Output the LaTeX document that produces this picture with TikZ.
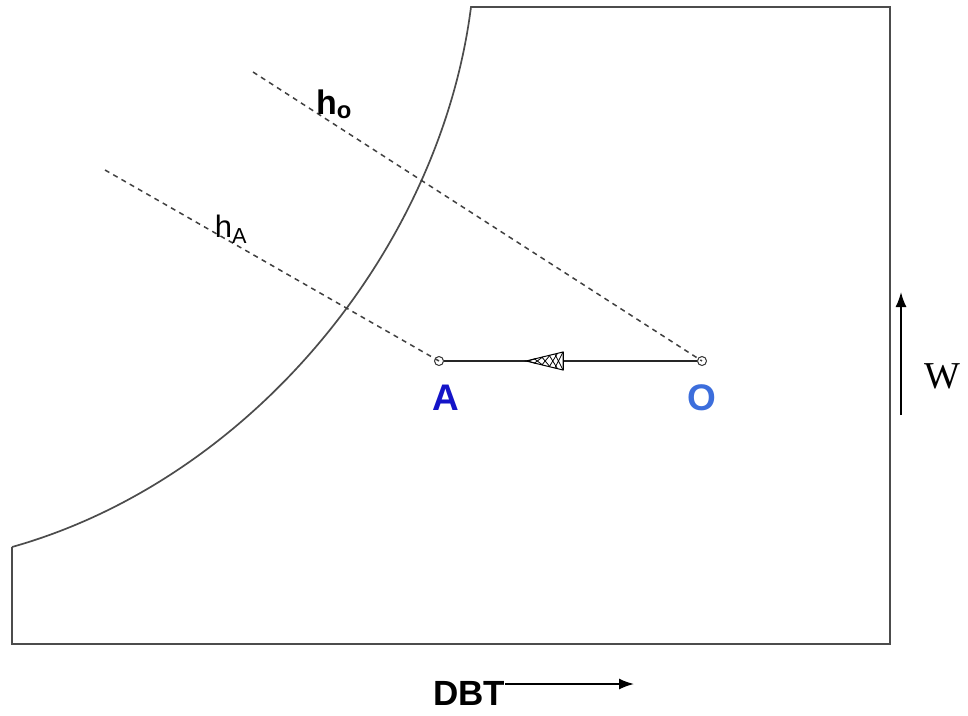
\documentclass[tikz,border=0pt]{standalone}
\usepackage{fontspec}
\setmainfont{Liberation Sans}
\newfontfamily\serifw{Liberation Serif}
\usetikzlibrary{arrows.meta,calc}
\definecolor{ablue}{RGB}{20,20,200}
\definecolor{oblue}{RGB}{60,110,220}
\begin{document}
\begin{tikzpicture}[x=1pt,y=-1pt,
  outline/.style={draw=black!70,line width=1.7pt},
  hline/.style={draw=black!75,dash pattern=on 5pt off 4.5pt,line width=1.5pt},
  pt/.style={circle,draw=black!80,line width=1pt,inner sep=0pt,minimum size=9pt},
  lbl/.style={inner sep=0pt,font=\fontsize{37}{40}\selectfont\bfseries},
  axarr/.style={draw=black,line width=1.6pt,-{Latex[length=15pt,width=11pt]}}]
\useasboundingbox (0,0) rectangle (968,715);
% outline
\coordinate (c0) at (12,547);
\coordinate (c1) at (12,644);
\coordinate (c2) at (890,644);
\coordinate (c3) at (890,7);
\coordinate (c4) at (471,7);
\draw[outline] (c0) -- (c1) -- (c2) -- (c3) -- (c4)
  .. controls (440,250) and (250,480) .. (c0);
% points
\node[pt] (A) at (439,361) {};
\node[pt] (O) at (702,361) {};
\coordinate (h0s) at (253,72);
\coordinate (hAs) at (105,170);
\draw[hline] (h0s) -- (O.center);
\draw[hline] (hAs) -- (A.center);
\draw[line width=2.4pt,black!85] (A) -- (O);
% hatched arrowhead
\coordinate (tip) at (526,361);
\coordinate (b1) at (563,352);
\coordinate (b2) at (563,370);
\draw[line width=1pt,fill=white] (tip) -- (b1) -- (b2) -- cycle;
\foreach \f in {0.25,0.45,0.65,0.85,1.0}{
  \draw[line width=0.8pt] ($(tip)!\f!(b1)$) -- ($(tip)!{\f-0.22}!(b2)$);
  \draw[line width=0.8pt] ($(tip)!\f!(b2)$) -- ($(tip)!{\f-0.22}!(b1)$);
}
\draw[line width=1pt] (b1) -- (b2);
% labels
\node[lbl,text=ablue] (Al) at (446,398) {A};
\node[lbl,text=oblue] (Ol) at (702,398) {O};
\node[inner sep=0pt,font=\fontsize{34}{36}\selectfont\bfseries] (h0l) at (334,104) {h\textsubscript{o}};
\node[inner sep=0pt,font=\fontsize{31}{33}\selectfont] (hAl) at (231,229) {h\textsubscript{A}};
% W axis
\coordinate (w1) at (901,415);
\coordinate (w2) at (901,292);
\draw[axarr] (w1) -- (w2);
\node[inner sep=0pt,font=\serifw\fontsize{38}{40}\selectfont] (Wl) at (942,376) {W};
% DBT axis
\node[lbl,font=\fontsize{35}{37}\selectfont\bfseries] (dbt) at (469,693) {DBT};
\coordinate (d2) at (634,684);
\draw[axarr] (dbt.east) ++(0,-9) coordinate (d1) -- (d2);
\end{tikzpicture}
\end{document}
